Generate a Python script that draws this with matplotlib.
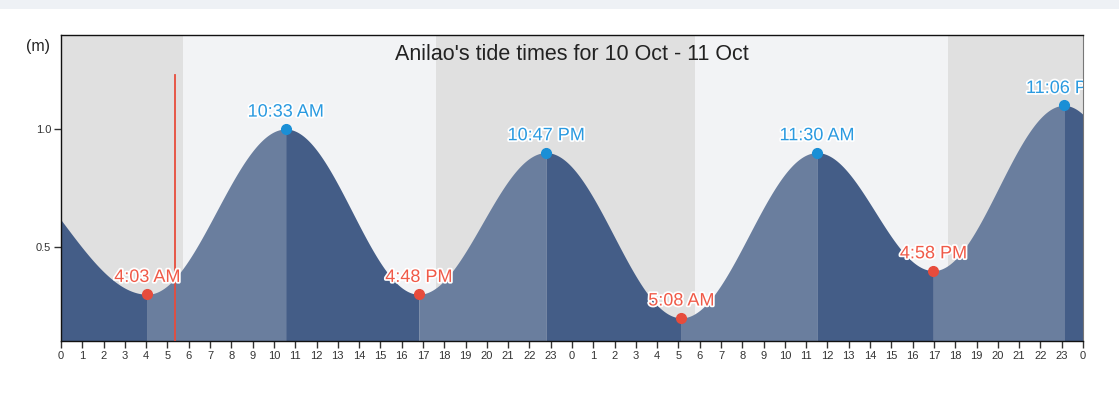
import numpy as np
import matplotlib.pyplot as plt
import matplotlib.patheffects as pe

plt.rcParams['font.family'] = ['Liberation Sans', 'DejaVu Sans']

## tide extremes (hours from 10 Oct 00:00, height in m)
# first and last entries are estimated extremes just outside the chart
tide_hours = [-3.8, 4.05, 10.55, 16.8, 22.78, 29.13, 35.5, 40.97, 47.1, 53.5]
tide_heights = [0.90, 0.30, 1.00, 0.30, 0.90, 0.20, 0.90, 0.40, 1.10, 0.30]
tide_labels = ['', '4:03 AM', '10:33 AM', '4:48 PM', '10:47 PM',
               '5:08 AM', '11:30 AM', '4:58 PM', '11:06 PM', '']

# night periods (hours)
night_start = [0, 17.61, 41.66]
night_end = [5.73, 29.78, 48]

now_hour = 5.35

tick_hours = list(range(0, 49))
tick_labels = [str(h % 24) for h in tick_hours]


def tide_curve(t):
    # cosine interpolation between consecutive extremes
    out = np.zeros_like(t)
    for i in range(len(tide_hours) - 1):
        t0, t1 = tide_hours[i], tide_hours[i + 1]
        h0, h1 = tide_heights[i], tide_heights[i + 1]
        m = (t >= t0) & (t <= t1)
        f = (t[m] - t0) / (t1 - t0)
        out[m] = h0 + (h1 - h0) * (1 - np.cos(np.pi * f)) / 2
    return out


fig = plt.figure(figsize=(11.19, 3.96), dpi=100)
# thin page strip along the top edge
fig.patches.append(plt.Rectangle((0, 1 - 9 / 396), 1, 9 / 396,
                                 transform=fig.transFigure, color='#eef1f5',
                                 lw=0))
ax = fig.add_axes([61 / 1119, 55 / 396, 1022 / 1119, 306 / 396])

ymin, ymax = 0.102, 1.398
ax.set_xlim(0, 48)
ax.set_ylim(ymin, ymax)
ax.set_facecolor('#f2f3f5')

for s, e in zip(night_start, night_end):
    ax.axvspan(s, e, color='#e0e0e0', lw=0, zorder=0)

dark = '#445d87'
light = '#6a7e9e'
for i in range(len(tide_hours) - 1):
    t0, t1 = tide_hours[i], tide_hours[i + 1]
    t = np.linspace(max(t0, 0), min(t1, 48), 200)
    if t[0] >= t[-1]:
        continue
    col = light if tide_heights[i + 1] > tide_heights[i] else dark
    ax.fill_between(t, ymin, tide_curve(t), color=col, lw=0, zorder=1)

ax.plot([now_hour, now_hour], [ymin, 1.23], color='#e74c3c', lw=1.3, zorder=3)

halo = [pe.withStroke(linewidth=2.5, foreground='white')]
for h, v, lab in zip(tide_hours, tide_heights, tide_labels):
    if not lab:
        continue
    high = v > 0.6
    col = '#1a8fd6' if high else '#e74c3c'
    ax.plot(h, v, 'o', color=col, ms=7, zorder=4, clip_on=False)
    txt = ax.annotate(lab, (h, v), xytext=(0, 6), textcoords='offset points',
                      ha='center', va='bottom', fontsize=13, clip_on=True,
                      color='#2a9ae0' if high else '#f05a48', zorder=5)
    txt.set_path_effects(halo)

ax.text(0.5, 0.97, "Anilao's tide times for 10 Oct - 11 Oct",
        transform=ax.transAxes, ha='center', va='top', fontsize=15.5,
        color='#222222', zorder=6)
fig.text(26 / 1119, 1 - 47 / 396, '(m)', ha='left', va='center',
         fontsize=11.5, color='#222222')

ax.set_xticks(tick_hours)
ax.set_xticklabels(tick_labels)
ax.set_yticks([0.5, 1.0])
ax.set_yticklabels(['0.5', '1.0'])
ax.tick_params(axis='both', direction='out', length=5, width=1,
               labelsize=8, colors='#333333', pad=2)

for side in ['left', 'bottom', 'top']:
    ax.spines[side].set_color('#111111')
    ax.spines[side].set_linewidth(1)
ax.spines['right'].set_color('#777777')

fig.savefig('out.png', dpi=100)
